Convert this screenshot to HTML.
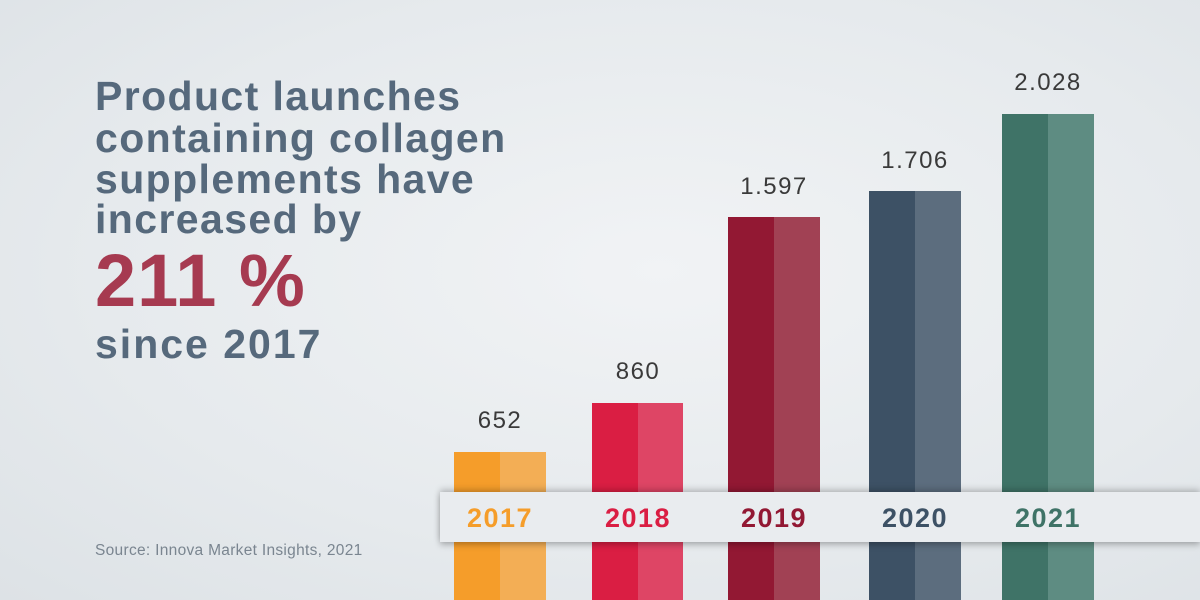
<!DOCTYPE html>
<html><head><meta charset="utf-8"><style>
body{margin:0}
#c{position:relative;width:1200px;height:600px;overflow:hidden;background:radial-gradient(ellipse at 55% 45%,#f1f3f5 0%,#e6eaed 60%,#dde2e6 100%);font-family:"Liberation Sans",sans-serif}
.h{position:absolute;left:95px;color:#56697c;font-weight:bold;font-size:41px;line-height:41px;letter-spacing:1.4px;white-space:nowrap}
.b{position:absolute}
.v{position:absolute;width:92px;text-align:center;font-size:24px;color:#3a3a3a;font-weight:normal;letter-spacing:1.5px}
.y{position:absolute;width:92px;text-align:center;font-size:27px;font-weight:bold;top:503px;letter-spacing:1.5px}
</style></head><body><div id="c">
<div class="h" style="top:76px">Product launches</div>
<div class="h" style="top:118px">containing collagen</div>
<div class="h" style="top:159px">supplements have</div>
<div class="h" style="top:199px">increased by</div>
<div class="h" style="top:244px;font-size:74px;line-height:74px;color:#a63a50;letter-spacing:1px">211 %</div>
<div class="h" style="top:324px;letter-spacing:2px">since 2017</div>
<div style="position:absolute;left:95px;top:542px;font-size:15.5px;color:#7a8590;letter-spacing:0.3px">Source: Innova Market Insights, 2021</div>

<div class="b" style="left:454px;top:452px;width:46px;height:148px;background:#f59d2a"></div>
<div class="b" style="left:500px;top:452px;width:46px;height:148px;background:#f3ae55"></div>
<div class="b" style="left:592px;top:403px;width:46px;height:197px;background:#da1e43"></div>
<div class="b" style="left:638px;top:403px;width:45px;height:197px;background:#de4565"></div>
<div class="b" style="left:728px;top:217px;width:46px;height:383px;background:#921833"></div>
<div class="b" style="left:774px;top:217px;width:46px;height:383px;background:#a14154"></div>
<div class="b" style="left:869px;top:191px;width:46px;height:409px;background:#3d5165"></div>
<div class="b" style="left:915px;top:191px;width:46px;height:409px;background:#5c6d7e"></div>
<div class="b" style="left:1002px;top:114px;width:46px;height:486px;background:#3f7367"></div>
<div class="b" style="left:1048px;top:114px;width:46px;height:486px;background:#5e8c82"></div>

<div class="b" style="left:440px;top:492px;width:760px;height:50px;background:#e9ecef;box-shadow:0 3px 6px rgba(0,0,0,0.25),0 -3px 6px rgba(0,0,0,0.18)"></div>

<div class="v" style="left:454px;top:407px">652</div>
<div class="v" style="left:592px;top:358px">860</div>
<div class="v" style="left:728px;top:173px">1.597</div>
<div class="v" style="left:869px;top:147px">1.706</div>
<div class="v" style="left:1002px;top:69px">2.028</div>

<div class="y" style="left:454px;color:#f59d2a">2017</div>
<div class="y" style="left:592px;color:#da1e43">2018</div>
<div class="y" style="left:728px;color:#921833">2019</div>
<div class="y" style="left:869px;color:#3d5165">2020</div>
<div class="y" style="left:1002px;color:#3f7367">2021</div>
</div></body></html>
